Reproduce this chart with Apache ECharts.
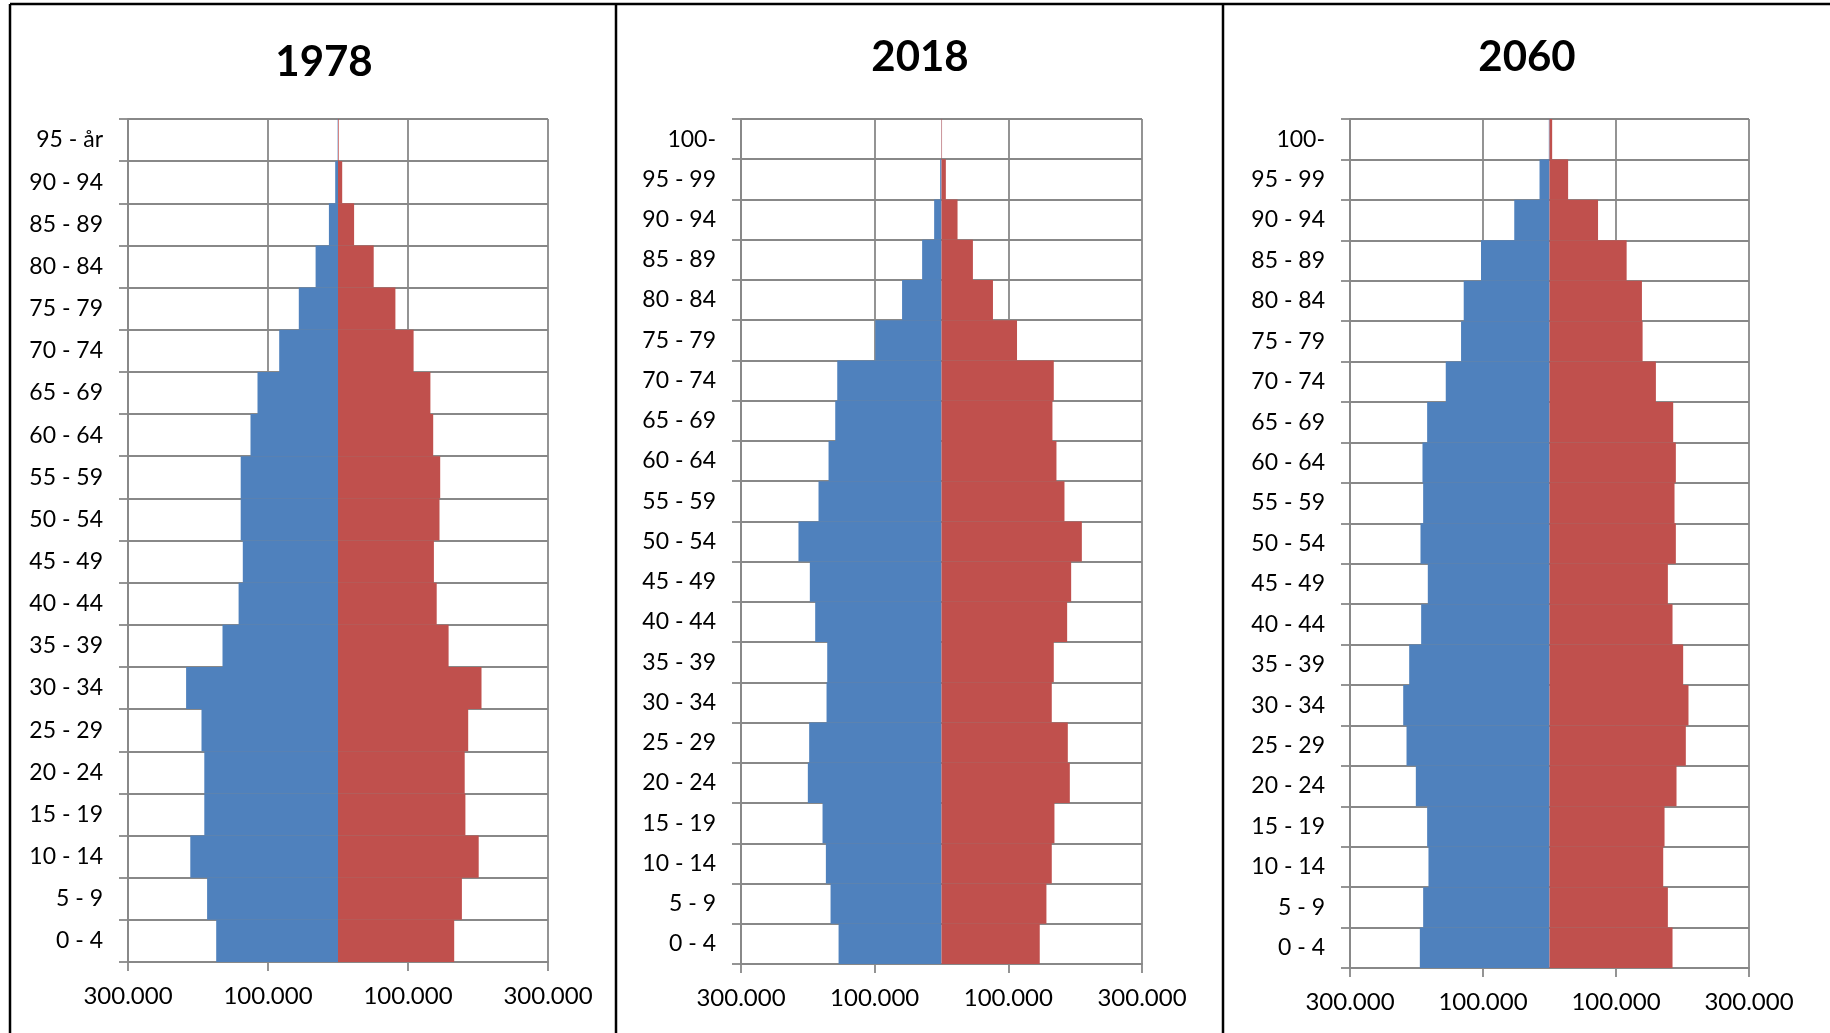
<!DOCTYPE html>
<html>
<head>
<meta charset="utf-8">
<script src="https://cdn.jsdelivr.net/npm/echarts@6/dist/echarts.min.js"></script>
<style>
html,body{margin:0;padding:0;background:#fff;}
#c{width:1830px;height:1033px;}
</style>
</head>
<body>
<div id="c"></div>
<script>
// ---- data ----
const years = ['1978', '2018', '2060'];
const ages1978 = ['0 - 4','5 - 9','10 - 14','15 - 19','20 - 24','25 - 29','30 - 34','35 - 39','40 - 44','45 - 49','50 - 54','55 - 59','60 - 64','65 - 69','70 - 74','75 - 79','80 - 84','85 - 89','90 - 94','95 - år'];
const ages = ['0 - 4','5 - 9','10 - 14','15 - 19','20 - 24','25 - 29','30 - 34','35 - 39','40 - 44','45 - 49','50 - 54','55 - 59','60 - 64','65 - 69','70 - 74','75 - 79','80 - 84','85 - 89','90 - 94','95 - 99','100-'];
const men1978 = [174000,187000,211000,191000,191000,195000,217000,165000,142000,136000,139000,139000,125000,115000,84000,56000,32000,13000,4000,500];
const women1978 = [166000,177000,201000,182000,181000,186000,205000,158000,141000,137000,145000,146000,136000,132000,108000,82000,51000,23000,6000,1000];
const men2018 = [154000,166000,173000,178000,200000,198000,172000,171000,189000,197000,214000,184000,169000,159000,156000,99000,59000,29000,11000,2000,300];
const women2018 = [147000,157000,165000,169000,192000,189000,165000,168000,188000,194000,210000,184000,172000,166000,168000,113000,77000,47000,24000,6500,800];
const men2060 = [195000,190000,182000,184000,201000,215000,220000,211000,193000,183000,194000,190000,191000,184000,156000,133000,129000,103000,53000,15000,1000];
const women2060 = [185000,178000,171000,173000,191000,205000,209000,201000,185000,178000,190000,188000,190000,186000,160000,140000,139000,116000,73000,28000,4000];
const xTickMin = -300000, xTickMax = 300000, xTickStep = 200000;

// ---- layout ----
const FONT = 'Lato, "Open Sans", sans-serif';
const GRID_COLOR = '#888888';
const panels = [
  {cats: ages1978, men: men1978, women: women1978, grid: {left:128, top:119, width:420, height:843}, titleX:324, titleY:62},
  {cats: ages, men: men2018, women: women2018, grid: {left:741, top:119, width:401, height:845}, titleX:920, titleY:57},
  {cats: ages, men: men2060, women: women2060, grid: {left:1350, top:119, width:399, height:849}, titleX:1527, titleY:57}
];

function fmt(v){
  const a = Math.abs(v);
  return String(a).replace(/\B(?=(\d{3})+(?!\d))/g, '.');
}

const grid = [], xAxis = [], yAxis = [], series = [], graphic = [];
panels.forEach((p, i) => {
  grid.push(Object.assign({containLabel:false}, p.grid));
  xAxis.push({
    type:'value', gridIndex:i, min:xTickMin, max:xTickMax, interval:xTickStep,
    axisLine:{show:true, lineStyle:{color:GRID_COLOR, width:1.8}},
    axisTick:{show:true, length:9, lineStyle:{color:GRID_COLOR, width:1.8}},
    splitLine:{show:true, lineStyle:{color:GRID_COLOR, width:1.8}},
    axisLabel:{formatter:fmt, color:'#000', fontFamily:FONT, fontSize:24, margin:22}
  });
  yAxis.push({
    type:'category', gridIndex:i, data:p.cats, boundaryGap:true,
    axisLine:{show:true, onZero:false, lineStyle:{color:GRID_COLOR, width:1.8}},
    axisTick:{show:true, length:9, lineStyle:{color:GRID_COLOR, width:1.8}},
    splitLine:{show:true, lineStyle:{color:GRID_COLOR, width:1.8}},
    axisLabel:{color:'#000', fontFamily:FONT, fontSize:23, margin:25, interval:0}
  });
  series.push({
    type:'bar', xAxisIndex:i, yAxisIndex:i, name:'Män',
    data:p.men.map(v => -v), barWidth:'100%', barGap:'-100%', barCategoryGap:'0%',
    itemStyle:{color:'#4F81BD'}, silent:true
  });
  series.push({
    type:'bar', xAxisIndex:i, yAxisIndex:i, name:'Kvinnor',
    data:p.women, barWidth:'100%', barGap:'-100%', barCategoryGap:'0%',
    itemStyle:{color:'#C0504D'}, silent:true
  });
  graphic.push({
    type:'text', x:p.titleX, y:p.titleY,
    style:{text:years[i], fontFamily:FONT, fontWeight:'bold', fontSize:42, fill:'#000', align:'center', verticalAlign:'middle'}
  });
});
// frame lines
graphic.push({type:'line', shape:{x1:10, y1:4, x2:1830, y2:4}, style:{stroke:'#000', lineWidth:2.5}});
[10, 616, 1223].forEach(x => {
  graphic.push({type:'line', shape:{x1:x, y1:4, x2:x, y2:1033}, style:{stroke:'#000', lineWidth:2.5}});
});

const chart = echarts.init(document.getElementById('c'));
chart.setOption({animation:false, backgroundColor:'#fff', grid, xAxis, yAxis, series, graphic});
</script>
</body>
</html>
